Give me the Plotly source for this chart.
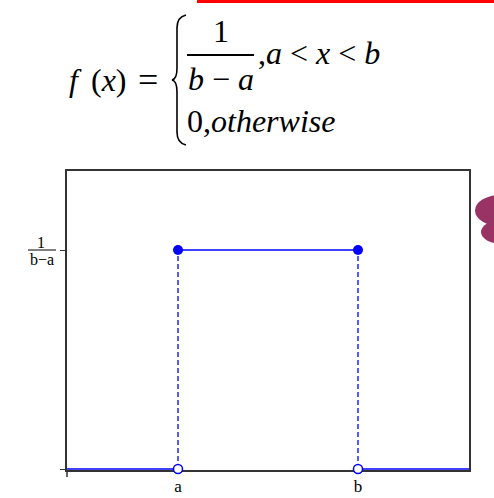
import plotly.graph_objects as go

# ---- data ----
a_val = 1.0
b_val = 3.0
height = 1.0          # 1/(b-a), drawn at unit height
x_tick_labels = ["a", "b"]
y_tick_label_num = "1"
y_tick_label_den = "b−a"

W, H = 494, 498
L, R, T, B = 67, 469, 171, 470   # plot box in pixels

x_min = a_val - 111 / 90 * (b_val - a_val) / 2
x_max = b_val + 111 / 90 * (b_val - a_val) / 2
y_min = -height / 219
y_max = height * (469 - 171) / 219


def px(x):
    return (x - L) / (R - L)


def py(y):
    return (B - y) / (B - T)


BLUE = "#0000ff"
AXC = "#333333"
SERIF = "Liberation Serif"

fig = go.Figure()
fig.add_trace(go.Scatter(x=[x_min, a_val], y=[0, 0], mode="lines",
                         line=dict(color=BLUE, width=1.5), hoverinfo="skip"))
fig.add_trace(go.Scatter(x=[b_val, x_max], y=[0, 0], mode="lines",
                         line=dict(color=BLUE, width=1.5), hoverinfo="skip"))
fig.add_trace(go.Scatter(x=[a_val, b_val], y=[height, height], mode="lines",
                         line=dict(color=BLUE, width=1.3), hoverinfo="skip"))
fig.add_trace(go.Scatter(x=[a_val, a_val, None, b_val, b_val],
                         y=[0, height, None, 0, height], mode="lines",
                         line=dict(color=BLUE, width=1.3, dash="5px,3px"),
                         hoverinfo="skip"))
fig.add_trace(go.Scatter(x=[a_val, b_val], y=[height, height], mode="markers",
                         marker=dict(color=BLUE, size=10, line=dict(width=0)),
                         cliponaxis=False, hoverinfo="skip"))
fig.add_trace(go.Scatter(x=[a_val, b_val], y=[0, 0], mode="markers",
                         marker=dict(color="white", size=9,
                                     line=dict(color=BLUE, width=1.5)),
                         cliponaxis=False, hoverinfo="skip"))

shapes = []
annotations = []


def txt(x, y, s, size, anchor="center"):
    annotations.append(dict(xref="paper", yref="paper", x=px(x), y=py(y),
                            text=s, showarrow=False,
                            font=dict(family=SERIF, size=size, color="black"),
                            xanchor=anchor, yanchor="middle"))


# fraction tick label on y axis
shapes.append(dict(type="line", xref="paper", yref="y",
                   x0=px(28), x1=px(56), y0=height, y1=height,
                   line=dict(color="black", width=1)))
txt(41, 242, y_tick_label_num, 16)
txt(42, 259, y_tick_label_den, 16)

# left axis extension below the x axis
shapes.append(dict(type="line", xref="paper", yref="paper",
                   x0=0, x1=0, y0=py(470), y1=py(477),
                   line=dict(color=AXC, width=1.5)))

# formula at top
FS = 32
txt(67, 80, "<i>f</i>", FS, "left")
txt(89, 80, "(<i>x</i>)", FS, "left")
txt(136, 80, "=", 36, "left")
txt(221, 31, "1", FS)
shapes.append(dict(type="line", xref="paper", yref="paper",
                   x0=px(187), x1=px(254), y0=py(55), y1=py(55),
                   line=dict(color="black", width=2)))
txt(221, 79, "<i>b</i> − <i>a</i>", FS)
txt(256, 53, ",<i>a</i> &lt; <i>x</i> &lt; <i>b</i>", FS, "left")
txt(185, 121, "0,<i>otherwise</i>", FS, "left")

# brace
def P(x, y):
    return f"{px(x):.5f},{py(y):.5f}"

brace = ("M " + P(186, 15) + " Q " + P(177, 17) + " " + P(177, 28) +
         " L " + P(177, 68) + " Q " + P(177, 79) + " " + P(172, 80) +
         " Q " + P(177, 81) + " " + P(177, 92) +
         " L " + P(177, 132) + " Q " + P(177, 143) + " " + P(186, 145))
shapes.append(dict(type="path", xref="paper", yref="paper", path=brace,
                   line=dict(color="black", width=1.6)))

# red bar at top
shapes.append(dict(type="rect", xref="paper", yref="paper",
                   x0=px(197), x1=px(494), y0=py(0), y1=py(3),
                   fillcolor="#ff0000", line=dict(width=0)))

# purple decoration at right edge
shapes.append(dict(type="circle", xref="paper", yref="paper",
                   x0=px(475), x1=px(525), y0=py(195), y1=py(226),
                   fillcolor="#993366", line=dict(width=0)))
shapes.append(dict(type="circle", xref="paper", yref="paper",
                   x0=px(481), x1=px(523), y0=py(220), y1=py(244),
                   fillcolor="#993366", line=dict(width=0)))

fig.update_layout(
    width=W, height=H,
    margin=dict(l=L, r=W - R, t=T, b=H - B, pad=0, autoexpand=False),
    paper_bgcolor="white", plot_bgcolor="white",
    font=dict(family=SERIF, color="black"),
    showlegend=False,
    shapes=shapes, annotations=annotations,
    xaxis=dict(range=[x_min, x_max], showgrid=False, zeroline=False,
               showline=True, mirror=True, linecolor=AXC, linewidth=1.5,
               ticks="", tickvals=[a_val, b_val], ticktext=x_tick_labels,
               tickfont=dict(family=SERIF, size=17, color="black"),
               layer="below traces", fixedrange=True, automargin=False),
    yaxis=dict(range=[y_min, y_max], showgrid=False, zeroline=False,
               showline=True, mirror=True, linecolor=AXC, linewidth=1.5,
               ticks="outside", ticklen=5, tickcolor=AXC, tickwidth=1.2,
               tickvals=[0, height], ticktext=["", ""],
               layer="below traces", fixedrange=True, automargin=False),
)

fig.write_html("out.html", config={"displayModeBar": False},
               post_script="document.body.style.margin='0px';"
                           "document.body.style.overflow='hidden';")
